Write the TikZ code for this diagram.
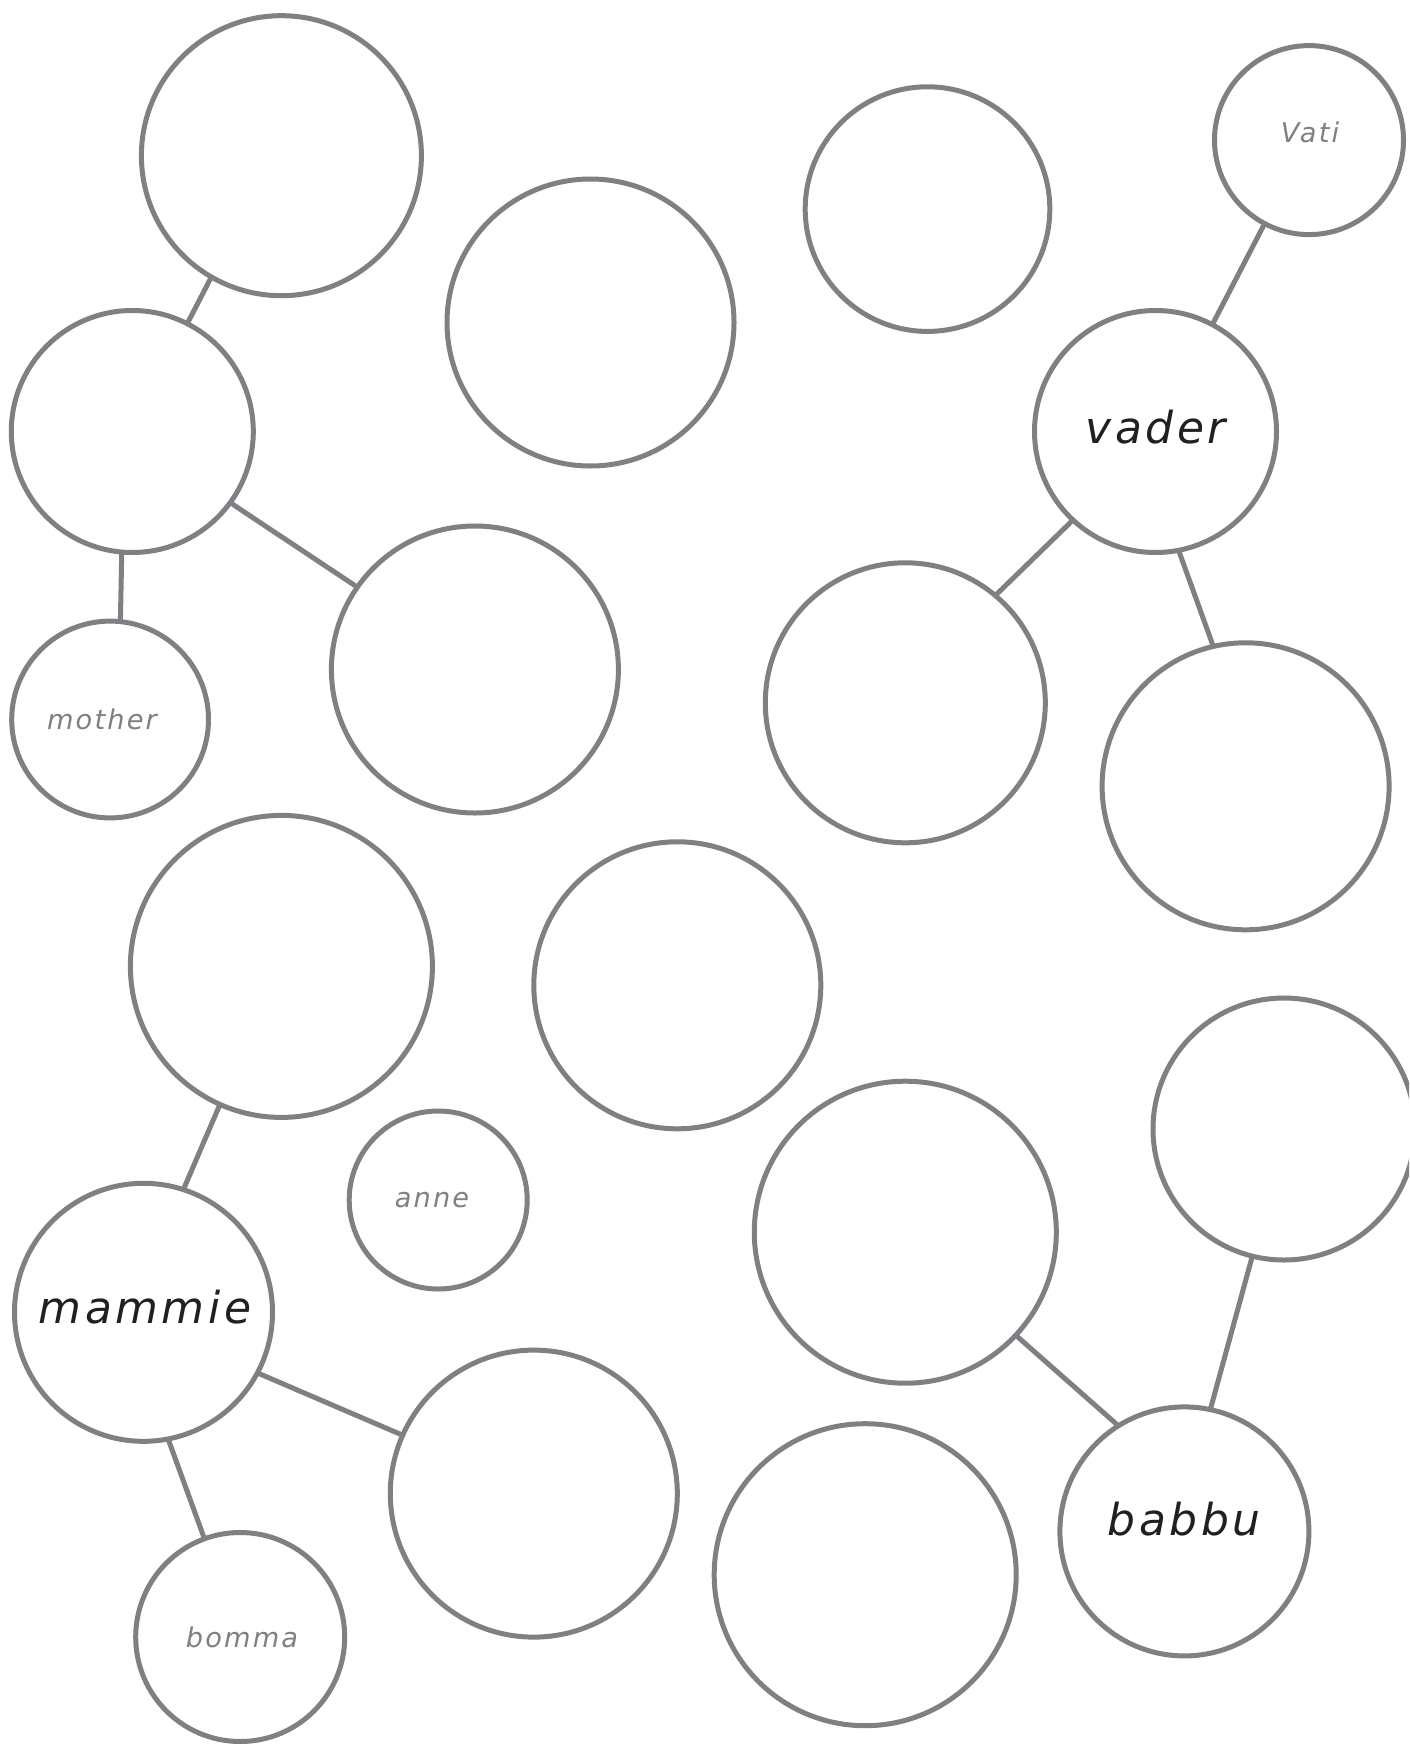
\documentclass[tikz,border=0pt]{standalone}
\usepackage{fontspec}
\setmainfont{DejaVu Sans}
\newfontfamily\lblfont[LetterSpace=8]{DejaVu Sans Oblique}
\definecolor{ringgray}{RGB}{128,128,132}
\definecolor{darktext}{RGB}{35,31,32}
\definecolor{lighttext}{RGB}{128,128,132}
\begin{document}
\begin{tikzpicture}[x=0.5pt,y=-0.5pt,
  ring/.style={circle,draw=ringgray,line width=2.5pt,fill=white,inner sep=0pt,outer sep=0pt,minimum size=#1pt},
  link/.style={draw=ringgray,line width=2.5pt},
  biglbl/.style={anchor=base,inner sep=0pt,text=darktext,font=\lblfont\fontsize{22}{26}\selectfont},
  smalllbl/.style={anchor=base,inner sep=0pt,text=lighttext,font=\lblfont\fontsize{13.6}{16}\selectfont}]
\useasboundingbox (0,0) rectangle (1409,1744);
\clip (0,0) rectangle (1409,1744);
% circles
\node[ring=140] (c1) at (281.4,155.7) {};
\node[ring=121] (c2) at (132.3,431.5) {};
\node[ring=98.4] (c3) at (110.1,719.5) {};
\node[ring=143.5] (c4) at (474.9,669.5) {};
\node[ring=143.5] (c5) at (590.5,322.5) {};
\node[ring=122.3] (c6) at (927.5,209.1) {};
\node[ring=94.5] (c7) at (1309,140.1) {};
\node[ring=121] (c8) at (1155.5,431.5) {};
\node[ring=140] (c9) at (905.3,702.8) {};
\node[ring=143.5] (c10) at (1245.6,786.3) {};
\node[ring=151] (c11) at (281.4,966.4) {};
\node[ring=143.5] (c12) at (677.3,985.3) {};
\node[ring=89] (c13) at (438.2,1200) {};
\node[ring=129] (c14) at (143.5,1312.3) {};
\node[ring=143.5] (c15) at (533.8,1493.6) {};
\node[ring=104.5] (c16) at (240.2,1637) {};
\node[ring=151] (c17) at (905.3,1232.2) {};
\node[ring=131] (c18) at (1284,1129) {};
\node[ring=151] (c19) at (865.2,1574.7) {};
\node[ring=124.5] (c20) at (1184.4,1531.4) {};
% connectors
\draw[link] (c1.240.2) -- (c2.63);
\draw[link] (c2.265.8) -- (c3.84.8);
\draw[link] (c2.324) -- (c4.145.3);
\draw[link] (c7.242.9) -- (c8.62);
\draw[link] (c8.227.3) -- (c9.50.2);
\draw[link] (c8.281.1) -- (c10.103.9);
\draw[link] (c11.246) -- (c14.72.2);
\draw[link] (c14.332.1) -- (c15.156.6);
\draw[link] (c14.281.6) -- (c16.110.5);
\draw[link] (c17.317.7) -- (c20.122.7);
\draw[link] (c18.256.8) -- (c20.78.5);
% labels
\node[smalllbl] (tvati) at (1310,143) {Vati};
\node[biglbl] (tvader) at (1156,443) {vader};
\node[smalllbl] (tmother) at (102,729) {mother};
\node[biglbl] (tmammie) at (145,1323) {mammie};
\node[smalllbl] (tanne) at (432,1207) {anne};
\node[smalllbl] (tbomma) at (242,1647) {bomma};
\node[biglbl] (tbabbu) at (1184,1535) {babbu};
\end{tikzpicture}
\end{document}
